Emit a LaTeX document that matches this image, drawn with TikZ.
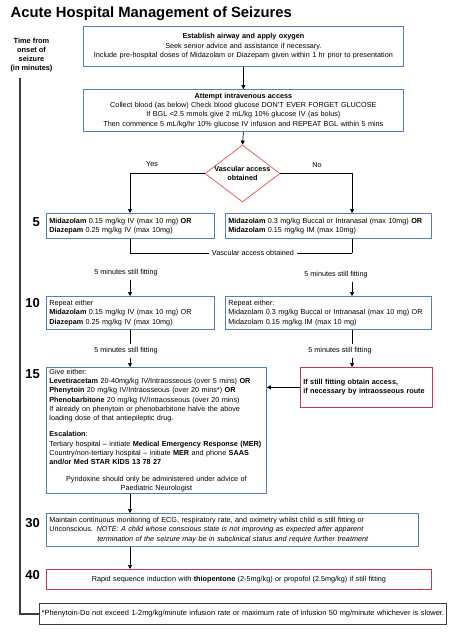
\documentclass[tikz,border=0pt]{standalone}
\usepackage{fontspec}
\setmainfont{Liberation Sans}
\usetikzlibrary{shapes.geometric,arrows.meta}
\definecolor{bblue}{RGB}{79,129,189}
\definecolor{dred}{RGB}{232,96,96}
\definecolor{rred}{RGB}{200,55,75}
\definecolor{tgray}{RGB}{60,60,60}
\newcommand{\fs}{\fontsize{7.25}{9.3}\selectfont}
\begin{document}
\begin{tikzpicture}[x=1pt,y=-1pt,
  box/.style={draw=bblue, line width=0.8pt, anchor=north west, inner xsep=3pt, inner ysep=0pt, font=\fs, align=left},
  rbox/.style={box, draw=rred},
  lbl/.style={font=\fs, fill=white, inner xsep=2pt, inner ysep=3pt},
  num/.style={font=\fontsize{13}{13}\selectfont\bfseries, anchor=east, inner sep=0pt},
  arr/.style={-{Triangle[length=4pt,width=4pt]}, line width=0.7pt},
  ln/.style={line width=0.7pt}]
\useasboundingbox (0,0) rectangle (461,637);
% title
\node[anchor=west, inner sep=0pt, font=\fontsize{14.8}{16}\selectfont\bfseries] (title) at (10.5,14) {Acute Hospital Management of Seizures};
% time label
\node[font=\fontsize{7.4}{9}\selectfont\bfseries, align=center, inner sep=0pt] (tlabel) at (31.5,55) {Time from\\onset of\\seizure\\(in minutes)};
\coordinate (xl) at (130,0);
\coordinate (xr) at (352,0);
% boxes
\node[box, align=center, text width=314pt, minimum height=40pt] (b1) at (83,26)
 {\textbf{Establish airway and apply oxygen}\\Seek senior advice and assistance if necessary.\\Include pre-hospital doses of Midazolam or Diazepam given within 1 hr prior to presentation};
\node[box, align=center, text width=314pt, minimum height=42pt] (b2) at (83,89)
 {\textbf{Attempt intravenous access}\\Collect blood (as below) Check blood glucose DON'T EVER FORGET GLUCOSE\\If BGL <2.5 mmols give 2 mL/kg 10\% glucose IV (as bolus)\\Then commence 5 mL/kg/hr 10\% glucose IV infusion and REPEAT BGL within 5 mins};
\node[diamond, draw=dred, line width=0.8pt, minimum width=75pt, minimum height=57pt, inner sep=0pt, shape aspect=1.3] (d) at (242.5,173.5) {};
\node[font=\fs\bfseries, align=center, inner sep=0pt] (dtext) at (d.center) {Vascular access\\obtained};
\node[font=\fs] (yes) at (152,164) {Yes};
\node[font=\fs] (no) at (317,165) {No};
\node[box, text width=162pt, minimum height=25pt] (b5L) at (46,213)
 {\textbf{Midazolam} 0.15 mg/kg IV (max 10 mg) \textbf{OR}\\\textbf{Diazepam} 0.25 mg/kg IV (max 10mg)};
\node[box, text width=200pt, minimum height=25pt] (b5R) at (225,213)
 {\textbf{Midazolam} 0.3 mg/kg Buccal or Intranasal (max 10mg) \textbf{OR}\\\textbf{Midazolam} 0.15 mg/kg IM (max 10mg)};
\node[box, text width=162pt, minimum height=33pt] (b10L) at (46,296)
 {Repeat either\\\textbf{Midazolam} 0.15 mg/kg IV (max 10 mg) OR\\\textbf{Diazepam} 0.25 mg/kg IV (max 10mg)};
\node[box, text width=200pt, minimum height=33pt] (b10R) at (225,296)
 {Repeat either:\\Midazolam 0.3 mg/kg Buccal or Intranasal (max 10 mg) OR\\Midazolam 0.15 mg/kg IM (max 10 mg)};
\node[box, text width=214pt, minimum height=126pt] (b15L) at (46,367)
 {Give either:\\
 \textbf{Levetiracetam} 20-40mg/kg IV/Intraosseous (over 5 mins) \textbf{OR}\\
 \textbf{Phenytoin} 20 mg/kg IV/Intraosseous (over 20 mins*) \textbf{OR}\\
 \textbf{Phenobarbitone} 20 mg/kg IV/Intraosseous (over 20 mins)\\
 If already on phenytoin or phenobarbitone halve the above\\
 loading dose of that antiepileptic drug.\\[7pt]
 \textbf{Escalation}:\\
 Tertiary hospital – initiate \textbf{Medical Emergency Response (MER)}\\
 Country/non-tertiary hospital – initiate \textbf{MER} and phone \textbf{SAAS}\\
 \textbf{and/or Med STAR KIDS 13 78 27}\\[7pt]
 \makebox[214pt][c]{Pyridoxine should only be administered under advice of}\\
 \makebox[214pt][c]{Paediatric Neurologist}};
\node[rbox, text width=126pt, minimum height=40pt, font=\fs\bfseries] (b15R) at (300,367)
 {If still fitting obtain access,\\if necessary by intraosseous route};
\node[box, text width=366pt, minimum height=33pt] (b30) at (46,513)
 {Maintain continuous monitoring of ECG, respiratory rate, and oximetry whilst child is still fitting or\\
 Unconscious. \textit{NOTE: A child whose conscious state is not improving as expected after apparent}\\
 \hspace*{48pt}\textit{termination of the seizure may be in subclinical status and require further treatment}};
\node[rbox, align=center, text width=379pt, minimum height=20pt] (b40) at (46,569)
 {Rapid sequence induction with \textbf{thiopentone} (2-5mg/kg) or propofol (2.5mg/kg) if still fitting};
\node[box, draw=tgray, align=center, inner xsep=1pt, text width=405pt, minimum height=21pt, font=\fontsize{7.45}{9}\selectfont] (foot) at (39,603)
 {*Phenytoin-Do not exceed 1-2mg/kg/minute infusion rate or maximum rate of infusion 50 mg/minute whichever is slower.};
% numbers
\node[num] (n5) at (40,222) {5};
\node[num] (n10) at (40,303) {10};
\node[num] (n15) at (40,374) {15};
\node[num] (n30) at (40,523) {30};
\node[num] (n40) at (40,575) {40};
% timeline
\coordinate (tl) at (20,78);
\draw[tgray, line width=2pt] (tl) -- (tl |- foot.west) -- (foot.west);
% connectors
\draw[arr] (b1.south) -- (b2.north);
\draw[arr] (b2.south) -- (d.north);
\draw[arr] (d.west) -| (b5L.north -| xl);
\draw[arr] (d.east) -| (b5R.north -| xr);
\coordinate (jl) at (130,253);
\coordinate (jr) at (352,253);
\draw[ln] (b5L.south -| xl) -- (jl) -- (jr) node[pos=0.554, font=\fs, fill=white, inner xsep=3pt, inner ysep=1pt] (vao) {Vascular access obtained};
\draw[ln] (b5R.south -| xr) -- (jr);
\node[lbl] (m1) at (126,273) {5 minutes still fitting};
\node[lbl] (m2) at (336,275) {5 minutes still fitting};
\draw[arr] (m1.south -| xl) -- (b10L.north -| xl);
\draw[arr] (m2.south -| xr) -- (b10R.north -| xr);
\node[lbl] (m3) at (126,351) {5 minutes still fitting};
\node[lbl] (m4) at (340,351) {5 minutes still fitting};
\draw[ln] (b10L.south -| xl) -- (m3.north -| xl);
\draw[arr] (m3.south -| xl) -- (b15L.north -| xl);
\draw[ln] (b10R.south -| xr) -- (m4.north -| xr);
\draw[arr] (m4.south -| xr) -- (b15R.north -| xr);
\draw[arr] (b15R.west) -- (b15L.east |- b15R.west);
\draw[arr] (b15L.south -| xl) -- (b30.north -| xl);
\draw[arr] (b30.south -| xl) -- (b40.north -| xl);
\end{tikzpicture}
\end{document}
